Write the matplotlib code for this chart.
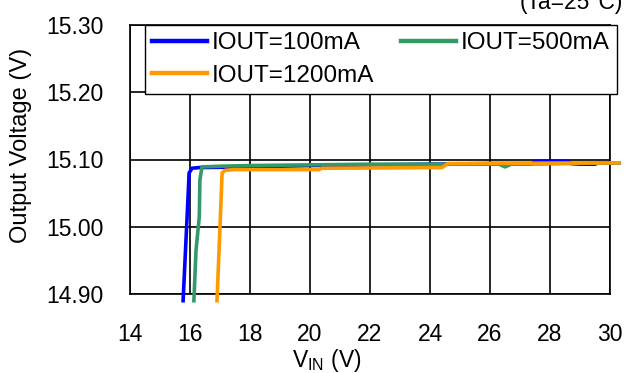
import matplotlib.pyplot as plt

plt.rcParams['font.family'] = ['Liberation Sans', 'DejaVu Sans']
plt.rcParams['mathtext.fontset'] = 'custom'
plt.rcParams['mathtext.rm'] = 'Liberation Sans'

# curves: input voltage (V) vs output voltage (V)
vin_100 = [15.77, 15.93, 15.97, 16.07, 16.3, 18.0, 20.0, 22.0, 24.0, 26.0, 27.4, 27.5, 28.6, 28.7, 29.0, 29.5, 29.6, 30.3]
vout_100 = [14.89, 15.04, 15.08, 15.087, 15.088, 15.089, 15.091, 15.092, 15.093, 15.094, 15.094, 15.097, 15.097, 15.094, 15.093, 15.093, 15.095, 15.095]

vin_500 = [16.13, 16.2, 16.31, 16.33, 16.4, 17.0, 18.0, 20.0, 22.0, 24.0, 26.3, 26.5, 26.7, 28.5, 30.3]
vout_500 = [14.89, 14.965, 15.015, 15.07, 15.089, 15.090, 15.091, 15.092, 15.093, 15.093, 15.093, 15.089, 15.093, 15.094, 15.095]

vin_1200 = [16.9, 17.0, 17.07, 17.17, 17.5, 20.3, 20.4, 20.5, 24.4, 24.5, 24.6, 30.3]
vout_1200 = [14.89, 15.0, 15.08, 15.084, 15.085, 15.085, 15.087, 15.087, 15.088, 15.091, 15.094, 15.095]

labels = ['IOUT=100mA', 'IOUT=500mA', 'IOUT=1200mA']
colors = ['#0000ff', '#339966', '#ff9900']
fs = 16.5

fig = plt.figure(figsize=(6.28, 3.73), dpi=100)
ax = fig.add_axes([130 / 628, 1 - 294 / 373, 480 / 628, 269 / 373])

l1, = ax.plot(vin_100, vout_100, color=colors[0], lw=2.6, label=labels[0], clip_on=False, zorder=3)
l2, = ax.plot(vin_500, vout_500, color=colors[1], lw=2.6, label=labels[1], clip_on=False, zorder=3)
l3, = ax.plot(vin_1200, vout_1200, color=colors[2], lw=2.6, label=labels[2], clip_on=False, zorder=4)

ax.set_xlim(14, 30)
ax.set_ylim(14.90, 15.30)
ax.set_xticks(range(14, 31, 2))
ax.set_yticks([14.90, 15.00, 15.10, 15.20, 15.30])
ax.set_yticklabels(['%.2f' % v for v in [14.90, 15.00, 15.10, 15.20, 15.30]])
ax.tick_params(length=0, labelsize=fs, colors='black')
ax.tick_params(axis='y', pad=19)
ax.tick_params(axis='x', pad=21)
ax.grid(color='black', lw=1.2)
ax.set_axisbelow(True)
for s in ax.spines.values():
    s.set_color('black')
    s.set_linewidth(1.2)

ax.set_ylabel('Output Voltage (V)', fontsize=17, va='center')
ax.yaxis.set_label_coords((21 - 130) / 480, (294 - 145) / 269)
ax.set_xlabel(r'V$_{\rm IN}$ (V)', fontsize=fs)
ax.xaxis.set_label_coords((327 - 130) / 480, (294 - 361) / 269)
ax.xaxis.label.set_va('center')

# column-wise fill: [100, 1200] then [500] gives rows 100/500 and 1200
leg = ax.legend([l1, l3, l2], [labels[0], labels[2], labels[1]], ncol=2,
                loc='upper left', bbox_to_anchor=((145 - 130) / 480, 1.0), fontsize=17.5,
                frameon=True, fancybox=False, edgecolor='black', framealpha=1,
                handlelength=2.25, handletextpad=0.2, columnspacing=1.1,
                borderpad=0.3, labelspacing=0.42, borderaxespad=0)
leg.get_frame().set_linewidth(1.0)
leg.set_zorder(5)
for h in leg.get_lines():
    h.set_linewidth(3.2)

fig.text(623 / 628, 1 - 14 / 373, '(Ta=25°C)', ha='right', va='bottom', fontsize=fs)

fig.savefig('out.png', dpi=100)
